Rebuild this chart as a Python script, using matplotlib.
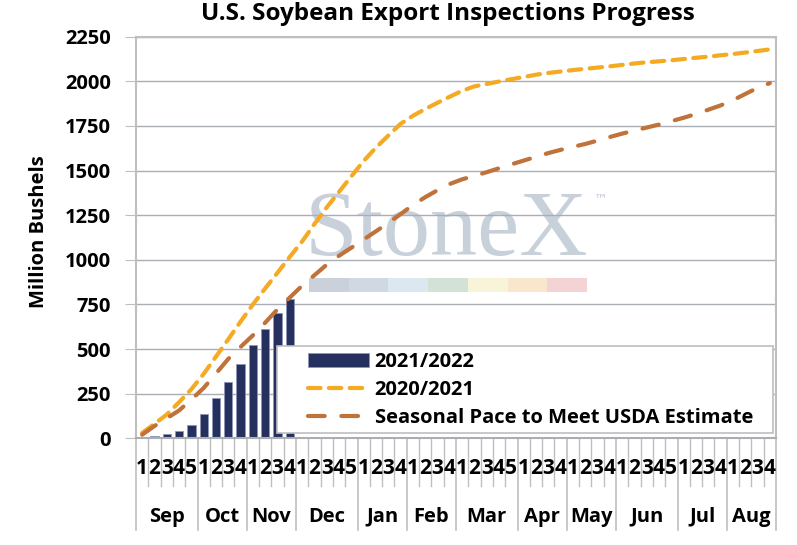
import numpy as np
import matplotlib
matplotlib.use("Agg")
import matplotlib.pyplot as plt
from matplotlib.patches import Rectangle
from matplotlib.lines import Line2D
import matplotlib.transforms as mtransforms

plt.rcParams['font.family'] = ['Open Sans', 'DejaVu Sans']

months = ['Sep', 'Oct', 'Nov', 'Dec', 'Jan', 'Feb', 'Mar', 'Apr', 'May', 'Jun', 'Jul', 'Aug']
weeks_per_month = [5, 4, 4, 5, 4, 4, 5, 4, 4, 5, 4, 4]

# cumulative inspections, million bushels
insp_2122 = [0, 13, 22, 41, 73, 136, 226, 317, 416, 523, 612, 704, 780]
insp_2021 = [30, 81, 133, 202, 275, 361, 458, 555, 654, 750, 840, 928, 1017,
             1103, 1201, 1294, 1381, 1468, 1554, 1629, 1696, 1762, 1807, 1845,
             1880, 1914, 1947, 1972, 1985, 1999, 2012, 2024, 2037, 2047, 2055,
             2063, 2070, 2077, 2084, 2092, 2100, 2107, 2112, 2118, 2125, 2132,
             2138, 2146, 2153, 2161, 2170, 2179]
seasonal_pace = [20, 69, 112, 156, 217, 282, 363, 445, 512, 577, 648, 723, 789,
                 855, 914, 973, 1023, 1068, 1114, 1160, 1207, 1256, 1307, 1351,
                 1390, 1425, 1451, 1470, 1491, 1513, 1535, 1556, 1577, 1598, 1616,
                 1633, 1649, 1668, 1688, 1707, 1724, 1741, 1758, 1777, 1796, 1817,
                 1841, 1865, 1894, 1929, 1963, 1990]

NAVY = '#25305F'
ORANGE = '#F4AA22'
BROWN = '#BF733A'
GRID = '#A9ADB4'
BORDER = '#BFBFBF'

n_weeks = sum(weeks_per_month)
x = np.arange(n_weeks)

fig = plt.figure(figsize=(7.97, 5.45), dpi=100)
ax = fig.add_axes([136 / 797, 1 - 438.3 / 545, 640 / 797, 401.6 / 545])

bars = ax.bar(np.arange(len(insp_2122)), insp_2122, width=0.68, color=NAVY,
              edgecolor='#8D96B8', linewidth=0.6, zorder=2, label='2021/2022')
l1, = ax.plot(x, insp_2021, color=ORANGE, lw=3, dashes=(3, 2), dash_capstyle='round',
              zorder=3, label='2020/2021')
l2, = ax.plot(x, seasonal_pace, color=BROWN, lw=3, dashes=(4, 4), dash_capstyle='round',
              zorder=3, label='Seasonal Pace to Meet USDA Estimate')

ax.set_xlim(-0.5, n_weeks - 0.5)
ax.set_ylim(0, 2250)
ax.set_yticks(range(0, 2251, 250))
ax.tick_params(axis='y', length=8, color=BORDER, pad=10, labelsize=14.5)
for t in ax.get_yticklabels():
    t.set_fontweight('bold')
ax.set_xticks([])
ax.grid(axis='y', color=GRID, lw=1)
ax.set_axisbelow(True)
for s in ax.spines.values():
    s.set_color(BORDER)
    s.set_linewidth(1.5)
ax.spines['bottom'].set_color(GRID)

ax.set_ylabel('Million Bushels', fontsize=14.5, fontweight='bold')
ax.yaxis.set_label_coords(-0.136, 0.515)
fig.text(448 / 797, 1 - 14 / 545, 'U.S. Soybean Export Inspections Progress',
         ha='center', va='center', fontsize=17.5, fontweight='bold')

# two level category axis
trans = mtransforms.blended_transform_factory(ax.transData, ax.transAxes)
week_bottom = (438.3 - 486) / 401.6
month_bottom = (438.3 - 530) / 401.6
start = 0
for m, nw in zip(months, weeks_per_month):
    for k in range(nw):
        ax.text(start + k, -0.075, str(k + 1), transform=trans, ha='center',
                va='center', fontsize=15, fontweight='bold')
        if k > 0:
            ax.add_line(Line2D([start + k - 0.5] * 2, [0, week_bottom], transform=trans,
                               color=BORDER, lw=1, clip_on=False))
    ax.text(start + (nw - 1) / 2, -0.195, m, transform=trans, ha='center',
            va='center', fontsize=14.5, fontweight='bold')
    ax.add_line(Line2D([start - 0.5] * 2, [0, month_bottom], transform=trans,
                       color=BORDER, lw=1.2, clip_on=False))
    start += nw
ax.add_line(Line2D([start - 0.5] * 2, [0, month_bottom], transform=trans,
                   color=BORDER, lw=1.2, clip_on=False))

# watermark
ax.text(0.485, 0.456, 'StoneX', transform=ax.transAxes, ha='center', va='baseline',
        family='Liberation Serif', fontsize=68, color='#C8D0DA', zorder=0.2)
ax.text(0.715, 0.595, '™', transform=ax.transAxes, ha='left', va='center',
        family='DejaVu Sans', fontsize=10, color='#C3CAD5', zorder=0.2)
strip = ['#CBD1DA', '#D0D9E3', '#DCE8F0', '#D2E2D6', '#F8F4D9', '#F9E7CD', '#F3D3D3']
seg_w = (0.705 - 0.27) / len(strip)
for i, c in enumerate(strip):
    ax.add_patch(Rectangle((0.27 + i * seg_w, 0.364), seg_w, 0.035,
                           transform=ax.transAxes, color=c, lw=0, zorder=0.2))

# legend box
ax.add_patch(Rectangle((0.22, 0.012), 0.776, 0.218, transform=ax.transAxes,
                       facecolor='white', edgecolor=BORDER, lw=1.2, zorder=5))
leg = ax.legend([bars, l1, l2], [bars.get_label(), l1.get_label(), l2.get_label()],
                loc='upper left', bbox_to_anchor=(0.269, 0.214), frameon=False,
                borderpad=0, borderaxespad=0, handlelength=3.0, handletextpad=0.3,
                labelspacing=0.4, prop={'size': 14.5, 'weight': 'bold'})
leg.set_zorder(6)

fig.savefig('out.png', dpi=100)
